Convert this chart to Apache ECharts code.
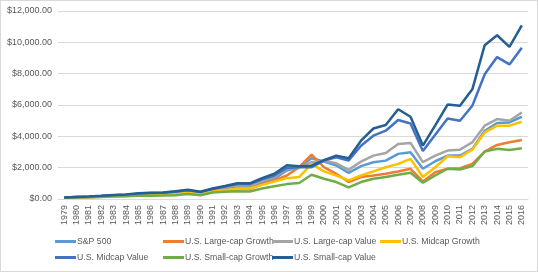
<!DOCTYPE html>
<html>
<head>
<meta charset="utf-8">
<script src="https://cdn.jsdelivr.net/npm/echarts@6/dist/echarts.min.js"></script>
<style>
  html, body { margin: 0; padding: 0; background: #fff; }
  #main { width: 536px; height: 270px; border: 1px solid #d9d9d9; }
</style>
</head>
<body>
<div id="main"></div>
<script>
var years = [];
for (var y = 1979; y <= 2016; y++) years.push(String(y));

var seriesNames = ['S&P 500', 'U.S. Large-cap Growth', 'U.S. Large-cap Value', 'U.S. Midcap Growth',
  'U.S. Midcap Value', 'U.S. Small-cap Growth', 'U.S. Small-cap Value'];
var colors = ['#5b9bd5', '#ed7d31', '#a5a5a5', '#ffc000', '#4472c4', '#70ad47', '#255e91'];

var sp500 = [100, 120, 130, 165, 210, 225, 290, 330, 350, 400, 500, 400, 560, 680, 820, 800, 1050, 1290, 1820, 2030,
  2600, 2390, 2140, 1670, 2100, 2350, 2450, 2880, 2980, 1930, 2410, 2770, 2770, 3200, 4360, 4850, 4890, 5250];
var largeGrowth = [100, 115, 125, 150, 185, 200, 250, 285, 300, 330, 420, 340, 480, 560, 620, 640, 950, 1190, 1500, 2030,
  2840, 2030, 1610, 1080, 1400, 1500, 1610, 1760, 1930, 1120, 1710, 1930, 1970, 2240, 3030, 3450, 3620, 3770];
var largeValue = [100, 120, 140, 175, 225, 245, 310, 350, 370, 430, 520, 420, 590, 720, 870, 860, 1150, 1400, 1920, 2030,
  2350, 2450, 2280, 1860, 2390, 2770, 2940, 3510, 3580, 2350, 2770, 3090, 3150, 3620, 4680, 5100, 4990, 5520];
var midGrowth = [100, 115, 125, 150, 185, 195, 250, 280, 290, 320, 400, 330, 480, 560, 650, 670, 900, 1120, 1330, 1400,
  2240, 1760, 1500, 1190, 1500, 1760, 2030, 2240, 2560, 1400, 2030, 2730, 2670, 3150, 4250, 4680, 4680, 4930];
var midValue = [100, 125, 150, 190, 245, 265, 340, 380, 400, 470, 560, 440, 640, 790, 960, 950, 1250, 1500, 1980, 2030,
  2030, 2455, 2660, 2455, 3400, 4040, 4360, 5040, 4820, 3070, 4100, 5140, 4990, 5950, 7960, 9060, 8590, 9650];
var smallGrowth = [100, 105, 115, 135, 160, 170, 200, 215, 220, 240, 325, 240, 410, 455, 500, 480, 670, 820, 950, 1020,
  1550, 1290, 1080, 740, 1080, 1290, 1400, 1550, 1670, 1040, 1500, 1930, 1880, 2100, 3030, 3200, 3130, 3240];
var smallValue = [100, 130, 160, 200, 260, 280, 360, 400, 420, 500, 590, 460, 670, 830, 1000, 1000, 1330, 1610, 2150, 2090,
  2130, 2480, 2770, 2600, 3720, 4500, 4720, 5730, 5250, 3410, 4700, 6030, 5950, 7000, 9820, 10450, 9710, 11080];

var allData = [sp500, largeGrowth, largeValue, midGrowth, midValue, smallGrowth, smallValue];

var font = 'Liberation Sans';
// legend is laid out as a grid of 4 columns, 2 rows
var legendCols = [
  [seriesNames[0], seriesNames[4]],
  [seriesNames[1], seriesNames[5]],
  [seriesNames[2], seriesNames[6]],
  [seriesNames[3]]
];
var legendLeft = [54, 162, 271, 379];

var chart = echarts.init(document.getElementById('main'));
chart.setOption({
  animation: false,
  color: colors,
  grid: { left: 57, right: 9, top: 10, bottom: 72 },
  legend: legendCols.map(function (col, i) {
    return {
      orient: 'vertical',
      left: legendLeft[i], top: 236,
      padding: 0,
      itemWidth: 21, itemHeight: 3, itemGap: 7,
      icon: 'rect',
      textStyle: { fontFamily: font, fontSize: 8.7, color: '#595959', padding: [0, 0, 0, -4] },
      data: col
    };
  }),
  xAxis: {
    type: 'category',
    data: years,
    axisLine: { lineStyle: { color: '#d9d9d9' } },
    axisTick: { show: false },
    axisLabel: { rotate: 90, interval: 0, fontFamily: font, fontSize: 9, color: '#595959', margin: 6 }
  },
  yAxis: {
    type: 'value',
    min: 0, max: 12000, interval: 2000,
    axisLine: { show: false },
    axisTick: { show: false },
    splitLine: { lineStyle: { color: '#d9d9d9' } },
    axisLabel: {
      fontFamily: font, fontSize: 9, color: '#595959', margin: 6,
      formatter: function (v) {
        return '$' + v.toLocaleString('en-US', { minimumFractionDigits: 2, maximumFractionDigits: 2 });
      }
    }
  },
  series: seriesNames.map(function (name, i) {
    return {
      name: name,
      type: 'line',
      data: allData[i],
      showSymbol: false,
      symbol: 'none',
      lineStyle: { width: 2.5 }
    };
  })
});
</script>
</body>
</html>
